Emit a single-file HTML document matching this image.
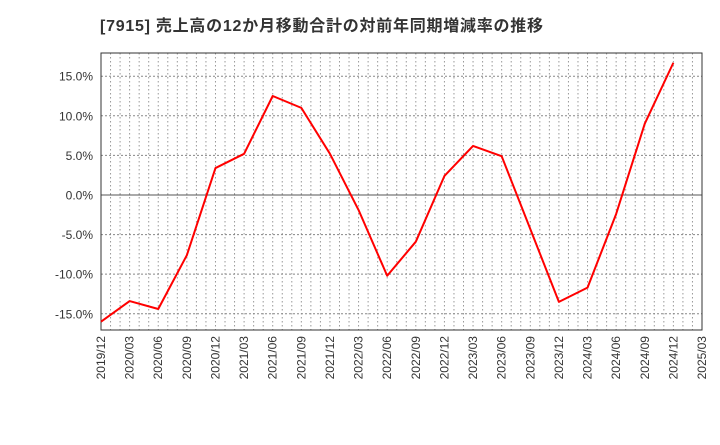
<!DOCTYPE html>
<html><head><meta charset="utf-8"><style>
body{margin:0;background:#fff;font-family:"Liberation Sans","Noto Sans CJK JP",sans-serif;}
</style></head><body>
<svg width="720" height="440" xmlns="http://www.w3.org/2000/svg">
<text x="100" y="31" font-size="16" font-weight="bold" fill="#333" textLength="443" lengthAdjust="spacing" font-family="Liberation Sans, Noto Sans CJK JP, sans-serif">[7915]  売上高の12か月移動合計の対前年同期増減率の推移</text>
<g id="grid"></g><g id="axes"></g><g id="series"></g>
</svg>
<script>
const categories=["2019/12","2020/03","2020/06","2020/09","2020/12","2021/03","2021/06","2021/09","2021/12","2022/03","2022/06","2022/09","2022/12","2023/03","2023/06","2023/09","2023/12","2024/03","2024/06","2024/09","2024/12","2025/03"];
const values=[-16.0,-13.4,-14.4,-7.6,3.4,5.2,12.5,11.0,5.2,-1.9,-10.2,-5.9,2.4,6.2,4.9,-4.3,-13.5,-11.7,-2.4,9.0,16.7];
const yTicks=[15,10,5,0,-5,-10,-15];
const L=101,R=702,T=53,B=330,yMin=-17.05,yMax=17.93;
const NS="http://www.w3.org/2000/svg";
const xs=i=>L+(R-L)*i/(categories.length-1);
const ys=v=>B-(v-yMin)/(yMax-yMin)*(B-T);
function mk(tag,attrs,parent){const e=document.createElementNS(NS,tag);for(const k in attrs)e.setAttribute(k,attrs[k]);document.getElementById(parent).appendChild(e);return e;}
const nMonths=(categories.length-1)*3;
for(let m=1;m<nMonths;m++){const x=L+(R-L)*m/nMonths;
const g=mk("line",{x1:x,x2:x,y1:T,y2:B,stroke:"#999","stroke-dasharray":"1.5,2.5","stroke-width":1},"grid");

}
yTicks.forEach(v=>{const y=ys(v);
const g=mk("line",{x1:L,x2:R,y1:y,y2:y,stroke:v===0?"#555":"#888","stroke-dasharray":v===0?"":"2,2","stroke-width":1},"grid");


const t=mk("text",{x:L-8,y:y+4.5,"text-anchor":"end","font-size":12,fill:"#333"},"axes");
t.textContent=v.toFixed(1)+"%";

});
const fr=mk("rect",{x:L,y:T,width:R-L,height:B-T,fill:"none",stroke:"#333","stroke-width":1},"axes");


categories.forEach((c,i)=>{const x=xs(i);
const t=mk("text",{x:x+4,y:B+6,"text-anchor":"end","font-size":12,fill:"#333",transform:`rotate(-90 ${x+4} ${B+6})`},"axes");
t.textContent=c;

});
const p=mk("polyline",{points:values.map((v,i)=>xs(i)+","+ys(v)).join(" "),fill:"none",stroke:"#f00","stroke-width":2,"stroke-linejoin":"round"},"series");


</script>
</body></html>
